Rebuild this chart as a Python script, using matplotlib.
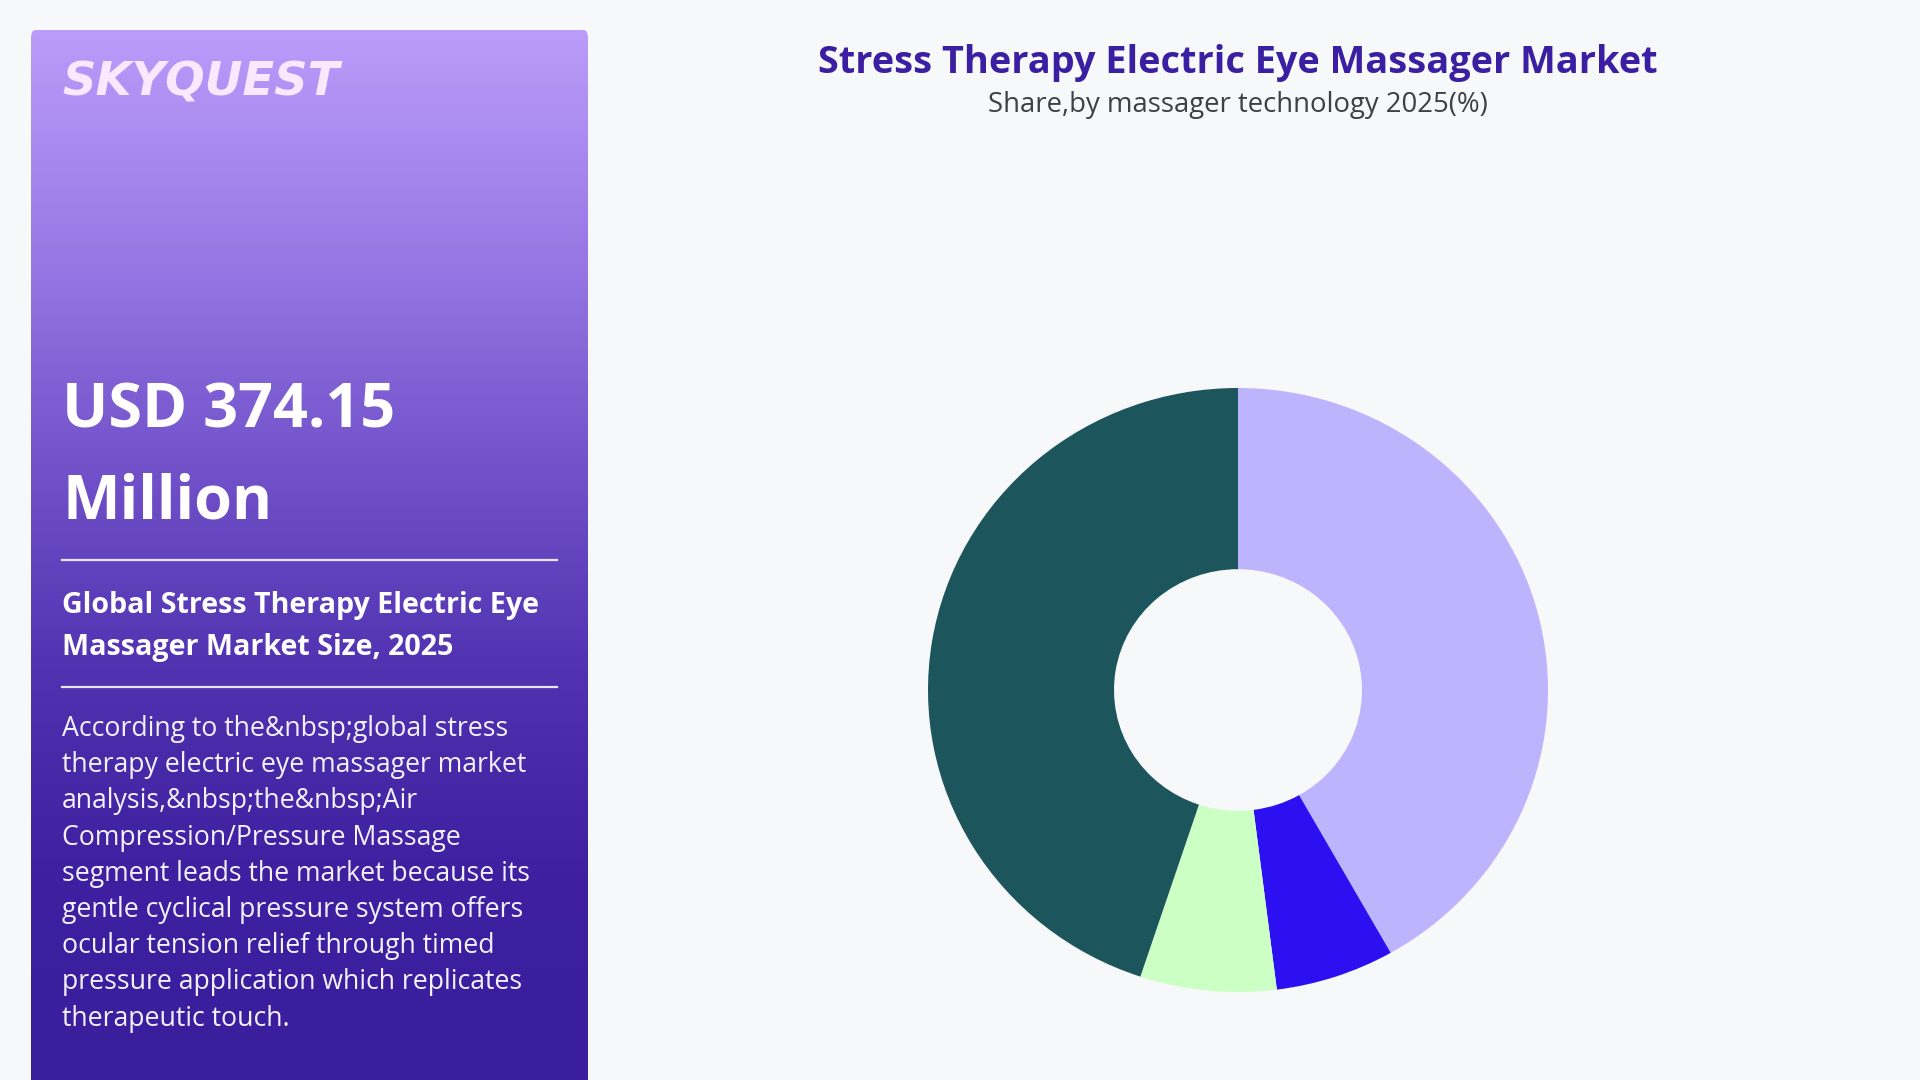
import matplotlib
matplotlib.use("Agg")
import matplotlib.pyplot as plt
import numpy as np
from matplotlib.colors import LinearSegmentedColormap
from matplotlib.patches import FancyBboxPatch

# share by massager technology 2025 (%), clockwise from 12 o'clock
segments = [
    "Vibration Massage",
    "Heat Therapy",
    "Kneading Massage",
    "Air Compression/Pressure Massage",
]
shares = [41.8, 6.2, 7.1, 44.9]
colors = ["#BDB4FE", "#2D10F2", "#CCFFC4", "#1C555C"]

title = "Stress Therapy Electric Eye Massager Market"
subtitle = "Share,by massager technology 2025(%)"
headline = ["USD 374.15", "Million"]
caption = ["Global Stress Therapy Electric Eye", "Massager Market Size, 2025"]
paragraph = [
    "According to the&nbsp;global stress",
    "therapy electric eye massager market",
    "analysis,&nbsp;the&nbsp;Air",
    "Compression/Pressure Massage",
    "segment leads the market because its",
    "gentle cyclical pressure system offers",
    "ocular tension relief through timed",
    "pressure application which replicates",
    "therapeutic touch.",
]

W, H = 1920, 1080
BG = "#F7F8FA"
FONT = "Open Sans"

fig = plt.figure(figsize=(W / 100, H / 100), dpi=100, facecolor=BG)


def fx(x):
    return x / W


def fy(y):
    return 1 - y / H


# left panel with vertical gradient, rounded at the top only
px0, py0, px1, py1 = 31, 30, 588, 1080
pax = fig.add_axes([fx(px0), fy(py1), fx(px1 - px0), (py1 - py0) / H])
pax.set_axis_off()
grad_cmap = LinearSegmentedColormap.from_list(
    "panel", ["#BB9CFA", "#9A7BE6", "#7455CC", "#5234B2", "#3E20A0", "#3A1E9C"]
)
grad = np.linspace(0, 1, 256).reshape(-1, 1)
im = pax.imshow(grad, cmap=grad_cmap, aspect="auto", extent=[0, 1, 1, 0])
pax.set_xlim(0, 1)
pax.set_ylim(1, 0)
clip = FancyBboxPatch((0, -0.05), 1, 1.05, boxstyle="round,pad=0,rounding_size=0.008",
                      transform=pax.transAxes, facecolor="none", edgecolor="none")
pax.add_patch(clip)
im.set_clip_path(clip)

fig.text(fx(62), fy(83), "SKYQUEST", fontsize=33.5, fontweight="heavy", style="italic",
         color="#F9E8FF", family="DejaVu Sans", va="center", ha="left")

fig.text(fx(62), fy(412), headline[0], fontsize=44, fontweight="bold", color="white",
         family=FONT, va="center", ha="left")
fig.text(fx(62), fy(503), headline[1], fontsize=44, fontweight="bold", color="white",
         family=FONT, va="center", ha="left")

for yy in (560, 687):
    fig.add_artist(plt.Line2D([fx(62), fx(557)], [fy(yy), fy(yy)], color="#E9E4FA",
                              lw=1.6, transform=fig.transFigure))

for i, line in enumerate(caption):
    fig.text(fx(62), fy(606 + 42 * i), line, fontsize=20.6, fontweight="bold",
             color="white", family=FONT, va="center", ha="left")

for i, line in enumerate(paragraph):
    fig.text(fx(62), fy(729 + 36.2 * i), line, fontsize=19.2, color="#F4F1FF",
             family=FONT, va="center", ha="left")

# titles
fig.text(fx(1238), fy(63), title, fontsize=27.3, fontweight="bold", color="#3B1FA3",
         family=FONT, va="center", ha="center")
fig.text(fx(1238), fy(105), subtitle, fontsize=19.8, color="#3F3F46",
         family=FONT, va="center", ha="center")

# donut (reference is drawn slightly wider than tall)
cx, cy, rx, ry = 1238, 690, 310, 302
ax = fig.add_axes([fx(cx - rx), fy(cy + ry), 2 * rx / W, 2 * ry / H])
ax.pie(shares, colors=colors, startangle=90, counterclock=False, radius=1,
       wedgeprops=dict(width=0.6, edgecolor="none"))
ax.set_xlim(-1, 1)
ax.set_ylim(-1, 1)
ax.set_aspect("auto")
ax.set_axis_off()

fig.savefig("out.png", dpi=100, facecolor=BG)
